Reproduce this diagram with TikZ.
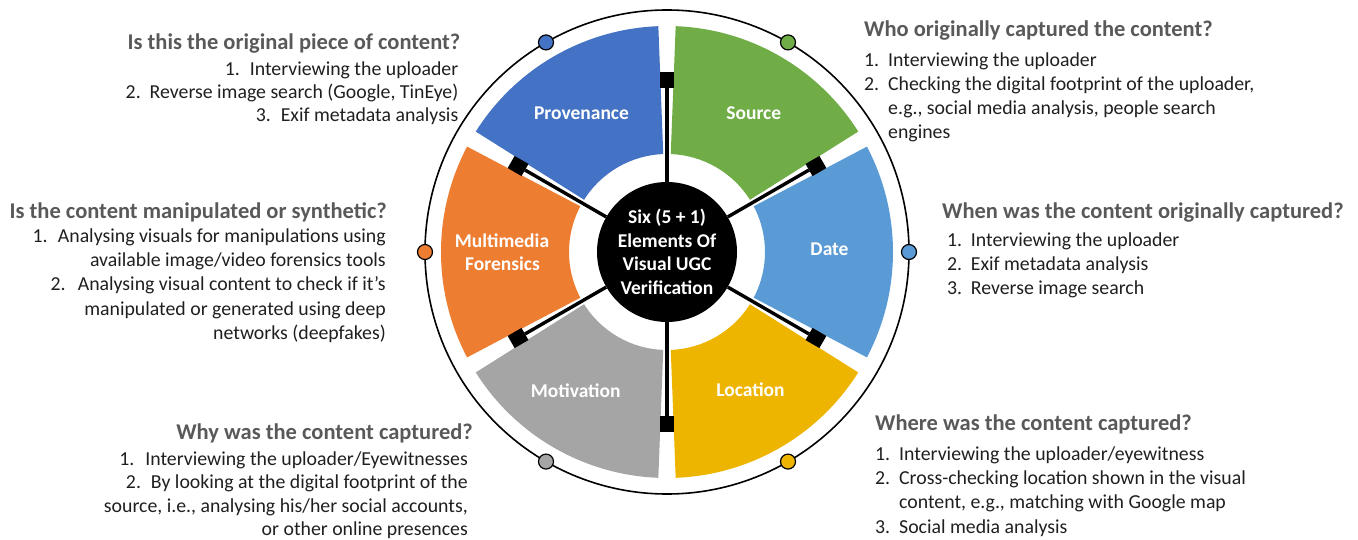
\documentclass[tikz,border=0pt]{standalone}
\usepackage{fontspec}
\setmainfont{Carlito}
\usetikzlibrary{calc}
\definecolor{cProv}{HTML}{4472C4}
\definecolor{cSrc}{HTML}{70AD47}
\definecolor{cDate}{HTML}{5B9BD5}
\definecolor{cLoc}{RGB}{237,180,0}
\definecolor{cMot}{HTML}{A5A5A5}
\definecolor{cMM}{HTML}{ED7D31}
\definecolor{cHead}{HTML}{595959}
\definecolor{cBody}{HTML}{1F1F1F}
\newcommand\mysector[3]{%
  \fill[#3] ($(C)+(#1:98)$) -- ($(C)+(#1:226)$) arc[start angle=#1, end angle=#2, radius=226]
    -- ($(C)+(#2:98)$) arc[start angle=#2, end angle=#1, radius=98] -- cycle;}
\begin{document}
\begin{tikzpicture}[x=1pt,y=1pt,
  head/.style={font=\fontsize{22.5}{27}\selectfont\bfseries, text=cHead, inner sep=0},
  body/.style={font=\fontsize{19.8}{24}\selectfont, text=cBody, inner sep=0},
  seglabel/.style={font=\fontsize{19.5}{23.5}\selectfont\bfseries, text=white, inner sep=0},
  spoke/.style={line width=3.4pt},
  stopper/.style={rectangle, fill=black, inner sep=0, minimum width=16pt, minimum height=14pt},
  dot/.style={circle, draw=black, line width=1.2pt, minimum size=15pt, inner sep=0},
  hubstyle/.style={circle, fill=black, minimum size=140pt, inner sep=0, text=white, align=center,
    font=\fontsize{19.5}{23.5}\selectfont\bfseries},
  ring/.style={draw=black, line width=1.6pt}
  ]
\useasboundingbox (0,0) rectangle (1358,539);
\coordinate (C) at (667,287);

% outer ring
\draw[ring] (C) circle[radius=242];

% sectors
\mysector{92.2}{147.8}{cProv}
\mysector{32.2}{87.8}{cSrc}
\mysector{-27.8}{27.8}{cDate}
\mysector{-87.8}{-32.2}{cLoc}
\mysector{212.2}{267.8}{cMot}
\mysector{152.2}{207.8}{cMM}

% hub
\node[hubstyle] (hub) at (C) {Six (5 + 1)\\Elements Of\\Visual UGC\\Verification};

% spokes with square ends
\foreach \a/\n in {90/1,30/2,-30/3,-90/4,210/5,150/6}{
  \coordinate (e\n) at ($(C)+(\a:164)$);
  \draw[spoke] (hub) -- (e\n);
  \node[stopper, rotate=\a] (q\n) at ($(C)+(\a:172)$) {};
}

% dots on ring
\node[dot, fill=cDate] (d0) at ($(C)+(0:242)$) {};
\node[dot, fill=cSrc]  (d1) at ($(C)+(60:242)$) {};
\node[dot, fill=cProv] (d2) at ($(C)+(120:242)$) {};
\node[dot, fill=cMM]   (d3) at ($(C)+(180:242)$) {};
\node[dot, fill=cMot]  (d4) at ($(C)+(240:242)$) {};
\node[dot, fill=cLoc]  (d5) at ($(C)+(300:242)$) {};

% sector labels
\node[seglabel, anchor=base] (lProv) at (581.5,419) {Provenance};
\node[seglabel, anchor=base] (lSrc) at (753.8,419) {Source};
\node[seglabel, anchor=base] (lDate) at (829.5,283.3) {Date};
\node[seglabel, anchor=base] (lLoc) at (750.5,142.3) {Location};
\node[seglabel, anchor=base] (lMot) at (575.7,141.7) {Motivation};
\node[seglabel, anchor=base] (lMMa) at (502,291.3) {Multimedia};
\node[seglabel, anchor=base] (lMMb) at (502.5,268) {Forensics};

% Block A (top-left)
\node[head, anchor=base east] (hA) at (460.5,489) {Is this the original piece of content?};
\node[body, anchor=base east] (a1) at (458.5,463) {\makebox[25pt][l]{1.}Interviewing the uploader};
\node[body, anchor=base east] (a2) at (458.5,440) {\makebox[24pt][l]{2.}Reverse image search (Google, TinEye)};
\node[body, anchor=base east] (a3) at (458.5,417) {\makebox[25pt][l]{3.}Exif metadata analysis};

% Block B (top-right)
\node[head, anchor=base west] (hB) at (864,502) {Who originally captured the content?};
\node[body, anchor=base west] (b1) at (864,472) {\makebox[24pt][l]{1.}Interviewing the uploader};
\node[body, anchor=base west] (b2) at (864,448) {\makebox[24pt][l]{2.}Checking the digital footprint of the uploader,};
\node[body, anchor=base west] (b3) at (888,424) {e.g., social media analysis, people search};
\node[body, anchor=base west] (b4) at (888,400) {engines};

% Block C (left-middle)
\node[head, anchor=base east] (hC) at (387,320) {Is the content manipulated or synthetic?};
\node[body, anchor=base east] (c1) at (386,296) {\makebox[25.3pt][l]{1.}Analysing visuals for manipulations using};
\node[body, anchor=base east] (c2) at (386,272) {available image/video forensics tools};
\node[body, anchor=base east] (c3) at (386,248) {\makebox[27.3pt][l]{2.}Analysing visual content to check if it’s};
\node[body, anchor=base east] (c4) at (386,224) {manipulated or generated using deep};
\node[body, anchor=base east] (c5) at (386,200) {networks (deepfakes)};

% Block D (right-middle)
\node[head, anchor=base west] (hD) at (942,320) {When was the content originally captured?};
\node[body, anchor=base west] (d1t) at (947,292) {\makebox[23.7pt][l]{1.}Interviewing the uploader};
\node[body, anchor=base west] (d2t) at (947,268) {\makebox[23.7pt][l]{2.}Exif metadata analysis};
\node[body, anchor=base west] (d3t) at (947,244) {\makebox[23.7pt][l]{3.}Reverse image search};

% Block E (bottom-left)
\node[head, anchor=base east] (hE) at (473,100) {Why was the content captured?};
\node[body, anchor=base east] (e1t) at (468,74) {\makebox[26pt][l]{1.}Interviewing the uploader/Eyewitnesses};
\node[body, anchor=base east] (e2t) at (468,51) {\makebox[25pt][l]{2.}By looking at the digital footprint of the};
\node[body, anchor=base east] (e3t) at (468,27) {source, i.e., analysing his/her social accounts,};
\node[body, anchor=base east] (e4t) at (468,4) {or other online presences};

% Block F (bottom-right)
\node[head, anchor=base west] (hF) at (875,109) {Where was the content captured?};
\node[body, anchor=base west] (f1) at (875,79) {\makebox[24pt][l]{1.}Interviewing the uploader/eyewitness};
\node[body, anchor=base west] (f2) at (875,55) {\makebox[24pt][l]{2.}Cross-checking location shown in the visual};
\node[body, anchor=base west] (f3) at (899,31) {content, e.g., matching with Google map};
\node[body, anchor=base west] (f4) at (875,6) {\makebox[24pt][l]{3.}Social media analysis};
\end{tikzpicture}
\end{document}
